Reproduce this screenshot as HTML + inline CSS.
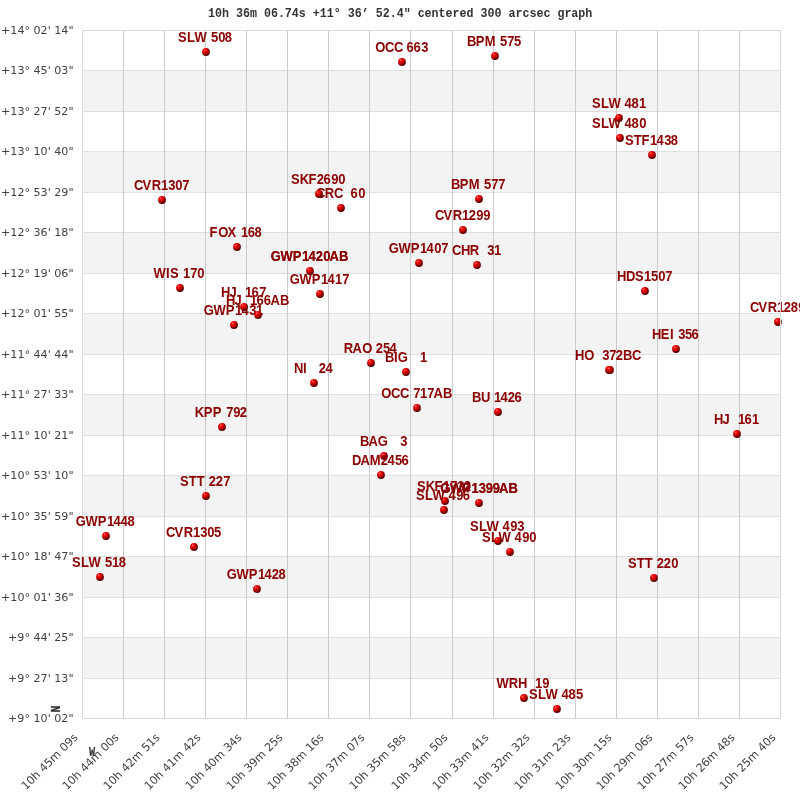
<!DOCTYPE html>
<html><head><meta charset="utf-8"><title>10h 36m 06.74s +11° 36' 52.4" centered 300 arcsec graph</title>
<style>
html,body{margin:0;padding:0;background:#fff;}
body{width:800px;height:800px;overflow:hidden;}
svg{display:block;}
text{white-space:pre;}
.t{font-family:"Liberation Mono","DejaVu Sans Mono",monospace;font-weight:bold;font-size:12.4px;fill:#333;}
.ax{font-family:"DejaVu Sans","Liberation Sans",sans-serif;font-size:11.12px;fill:#414141;}
.xl{font-size:11.3px;}
.lb{font-family:"Liberation Sans","DejaVu Sans",sans-serif;font-weight:bold;font-size:14.5px;fill:#8b0000;}
.nw{font-family:"Liberation Mono","DejaVu Sans Mono",monospace;font-weight:bold;font-size:11.67px;fill:#333;}
</style></head><body>
<svg width="800" height="800" viewBox="0 0 800 800">
<defs>
<radialGradient id="sph" cx="0.37" cy="0.33" r="0.78" fx="0.33" fy="0.27">
<stop offset="0" stop-color="#ffb4b4"/><stop offset="0.11" stop-color="#ff3c3c"/><stop offset="0.24" stop-color="#fa0000"/><stop offset="0.45" stop-color="#cc0000"/><stop offset="0.66" stop-color="#8a0000"/><stop offset="0.85" stop-color="#580000"/><stop offset="1" stop-color="#400000"/>
</radialGradient>
<filter id="dbl" x="-10%" y="-30%" width="120%" height="160%"><feOffset in="SourceGraphic" dx="-0.5" dy="0" result="o"/><feMerge><feMergeNode in="o"/><feMergeNode in="SourceGraphic"/></feMerge></filter>
</defs>
<rect x="0" y="0" width="800" height="800" fill="#ffffff"/>
<rect x="82" y="70" width="698" height="41" fill="#f3f3f3"/>
<rect x="82" y="151" width="698" height="41" fill="#f3f3f3"/>
<rect x="82" y="232" width="698" height="41" fill="#f3f3f3"/>
<rect x="82" y="313" width="698" height="41" fill="#f3f3f3"/>
<rect x="82" y="394" width="698" height="41" fill="#f3f3f3"/>
<rect x="82" y="475" width="698" height="41" fill="#f3f3f3"/>
<rect x="82" y="556" width="698" height="41" fill="#f3f3f3"/>
<rect x="82" y="637" width="698" height="41" fill="#f3f3f3"/>
<rect x="82" y="30" width="699" height="1" fill="#dbdbdb"/>
<rect x="82" y="70" width="699" height="1" fill="#dfdfdf"/>
<rect x="82" y="111" width="699" height="1" fill="#dfdfdf"/>
<rect x="82" y="151" width="699" height="1" fill="#dfdfdf"/>
<rect x="82" y="192" width="699" height="1" fill="#dfdfdf"/>
<rect x="82" y="232" width="699" height="1" fill="#dfdfdf"/>
<rect x="82" y="273" width="699" height="1" fill="#dfdfdf"/>
<rect x="82" y="313" width="699" height="1" fill="#dfdfdf"/>
<rect x="82" y="354" width="699" height="1" fill="#dfdfdf"/>
<rect x="82" y="394" width="699" height="1" fill="#dfdfdf"/>
<rect x="82" y="435" width="699" height="1" fill="#dfdfdf"/>
<rect x="82" y="475" width="699" height="1" fill="#dfdfdf"/>
<rect x="82" y="516" width="699" height="1" fill="#dfdfdf"/>
<rect x="82" y="556" width="699" height="1" fill="#dfdfdf"/>
<rect x="82" y="597" width="699" height="1" fill="#dfdfdf"/>
<rect x="82" y="637" width="699" height="1" fill="#dfdfdf"/>
<rect x="82" y="678" width="699" height="1" fill="#dfdfdf"/>
<rect x="82" y="718" width="699" height="1" fill="#dbdbdb"/>
<rect x="82" y="30" width="1" height="689" fill="#dbdbdb"/>
<rect x="123" y="30" width="1" height="689" fill="#cbcbcb"/>
<rect x="164" y="30" width="1" height="689" fill="#cbcbcb"/>
<rect x="205" y="30" width="1" height="689" fill="#cbcbcb"/>
<rect x="246" y="30" width="1" height="689" fill="#cbcbcb"/>
<rect x="287" y="30" width="1" height="689" fill="#cbcbcb"/>
<rect x="328" y="30" width="1" height="689" fill="#cbcbcb"/>
<rect x="369" y="30" width="1" height="689" fill="#cbcbcb"/>
<rect x="410" y="30" width="1" height="689" fill="#cbcbcb"/>
<rect x="452" y="30" width="1" height="689" fill="#cbcbcb"/>
<rect x="493" y="30" width="1" height="689" fill="#cbcbcb"/>
<rect x="534" y="30" width="1" height="689" fill="#cbcbcb"/>
<rect x="575" y="30" width="1" height="689" fill="#cbcbcb"/>
<rect x="616" y="30" width="1" height="689" fill="#cbcbcb"/>
<rect x="657" y="30" width="1" height="689" fill="#cbcbcb"/>
<rect x="698" y="30" width="1" height="689" fill="#cbcbcb"/>
<rect x="739" y="30" width="1" height="689" fill="#cbcbcb"/>
<rect x="780" y="30" width="1" height="689" fill="#dbdbdb"/>
<text class="t" transform="translate(208,17) scale(0.9409,1)" xml:space="preserve">10h 36m 06.74s +11° 36’ 52.4" centered 300 arcsec graph</text>
<text class="nw" transform="translate(59.9,712.6) rotate(-90) scale(1.02,1.03)" stroke="#333" stroke-width="0.2">N</text>
<text class="nw" transform="translate(89,756) scale(0.88,1.06)" stroke="#333" stroke-width="0.15">W</text>
<text class="ax" x="73.5" y="34.3" text-anchor="end" xml:space="preserve">+14° 02' 14"</text>
<text class="ax" x="73.5" y="74.3" text-anchor="end" xml:space="preserve">+13° 45' 03"</text>
<text class="ax" x="73.5" y="115.3" text-anchor="end" xml:space="preserve">+13° 27' 52"</text>
<text class="ax" x="73.5" y="155.3" text-anchor="end" xml:space="preserve">+13° 10' 40"</text>
<text class="ax" x="73.5" y="196.3" text-anchor="end" xml:space="preserve">+12° 53' 29"</text>
<text class="ax" x="73.5" y="236.3" text-anchor="end" xml:space="preserve">+12° 36' 18"</text>
<text class="ax" x="73.5" y="277.3" text-anchor="end" xml:space="preserve">+12° 19' 06"</text>
<text class="ax" x="73.5" y="317.3" text-anchor="end" xml:space="preserve">+12° 01' 55"</text>
<text class="ax" x="73.5" y="358.3" text-anchor="end" xml:space="preserve">+11° 44' 44"</text>
<text class="ax" x="73.5" y="398.3" text-anchor="end" xml:space="preserve">+11° 27' 33"</text>
<text class="ax" x="73.5" y="439.3" text-anchor="end" xml:space="preserve">+11° 10' 21"</text>
<text class="ax" x="73.5" y="479.3" text-anchor="end" xml:space="preserve">+10° 53' 10"</text>
<text class="ax" x="73.5" y="520.3" text-anchor="end" xml:space="preserve">+10° 35' 59"</text>
<text class="ax" x="73.5" y="560.3" text-anchor="end" xml:space="preserve">+10° 18' 47"</text>
<text class="ax" x="73.5" y="601.3" text-anchor="end" xml:space="preserve">+10° 01' 36"</text>
<text class="ax" x="73.5" y="641.3" text-anchor="end" xml:space="preserve">+9° 44' 25"</text>
<text class="ax" x="73.5" y="682.3" text-anchor="end" xml:space="preserve">+9° 27' 13"</text>
<text class="ax" x="73.5" y="722.3" text-anchor="end" xml:space="preserve">+9° 10' 02"</text>
<text class="ax xl" text-anchor="end" transform="translate(78.5,738) rotate(-45)" xml:space="preserve">10h 45m 09s</text>
<text class="ax xl" text-anchor="end" transform="translate(119.5,738) rotate(-45)" xml:space="preserve">10h 44m 00s</text>
<text class="ax xl" text-anchor="end" transform="translate(160.5,738) rotate(-45)" xml:space="preserve">10h 42m 51s</text>
<text class="ax xl" text-anchor="end" transform="translate(201.5,738) rotate(-45)" xml:space="preserve">10h 41m 42s</text>
<text class="ax xl" text-anchor="end" transform="translate(242.5,738) rotate(-45)" xml:space="preserve">10h 40m 34s</text>
<text class="ax xl" text-anchor="end" transform="translate(283.5,738) rotate(-45)" xml:space="preserve">10h 39m 25s</text>
<text class="ax xl" text-anchor="end" transform="translate(324.5,738) rotate(-45)" xml:space="preserve">10h 38m 16s</text>
<text class="ax xl" text-anchor="end" transform="translate(365.5,738) rotate(-45)" xml:space="preserve">10h 37m 07s</text>
<text class="ax xl" text-anchor="end" transform="translate(406.5,738) rotate(-45)" xml:space="preserve">10h 35m 58s</text>
<text class="ax xl" text-anchor="end" transform="translate(448.5,738) rotate(-45)" xml:space="preserve">10h 34m 50s</text>
<text class="ax xl" text-anchor="end" transform="translate(489.5,738) rotate(-45)" xml:space="preserve">10h 33m 41s</text>
<text class="ax xl" text-anchor="end" transform="translate(530.5,738) rotate(-45)" xml:space="preserve">10h 32m 32s</text>
<text class="ax xl" text-anchor="end" transform="translate(571.5,738) rotate(-45)" xml:space="preserve">10h 31m 23s</text>
<text class="ax xl" text-anchor="end" transform="translate(612.5,738) rotate(-45)" xml:space="preserve">10h 30m 15s</text>
<text class="ax xl" text-anchor="end" transform="translate(653.5,738) rotate(-45)" xml:space="preserve">10h 29m 06s</text>
<text class="ax xl" text-anchor="end" transform="translate(694.5,738) rotate(-45)" xml:space="preserve">10h 27m 57s</text>
<text class="ax xl" text-anchor="end" transform="translate(735.5,738) rotate(-45)" xml:space="preserve">10h 26m 48s</text>
<text class="ax xl" text-anchor="end" transform="translate(776.5,738) rotate(-45)" xml:space="preserve">10h 25m 40s</text>
<text class="lb" transform="translate(359.75,446) scale(0.8966,1)" x="0.18 9.84 20.18 31.23 35.69 40.15 45.14" xml:space="preserve">BAG   3</text>
<circle cx="384" cy="456" r="3.9" fill="url(#sph)"/>
<text class="lb" transform="translate(384.75,362) scale(0.8966,1)" x="0.18 10.26 14.60 25.65 30.12 34.58 39.22" xml:space="preserve">BIG   1</text>
<circle cx="406" cy="372" r="3.9" fill="url(#sph)"/>
<text class="lb" transform="translate(466.75,46) scale(0.8966,1)" x="0.18 9.98 20.18 32.35 37.23 45.05 52.84" xml:space="preserve">BPM 575</text>
<circle cx="495" cy="56" r="3.9" fill="url(#sph)"/>
<text class="lb" transform="translate(450.75,189) scale(0.8966,1)" x="0.18 9.98 20.18 32.35 37.23 45.05 52.86" xml:space="preserve">BPM 577</text>
<circle cx="479" cy="199" r="3.9" fill="url(#sph)"/>
<text class="lb" transform="translate(471.75,402) scale(0.8966,1)" x="0.18 10.40 20.08 24.72 32.15 40.07 47.82" xml:space="preserve">BU 1426</text>
<circle cx="498" cy="412" r="3.9" fill="url(#sph)"/>
<text class="lb" transform="translate(451.75,255) scale(0.8966,1)" x="0.25 10.38 20.09 30.12 34.58 39.57 47.03" xml:space="preserve">CHR  31</text>
<circle cx="477" cy="265" r="3.9" fill="url(#sph)"/>
<text class="lb" transform="translate(315.75,198) scale(0.8966,1)" x="0.25 10.05 20.33 30.12 34.58 38.90 47.28" xml:space="preserve">CRC  60</text>
<circle cx="341" cy="208" r="3.9" fill="url(#sph)"/>
<text class="lb" transform="translate(749.75,312) scale(0.8966,1)" x="0.25 9.66 20.09 30.30 37.84 45.59 53.98" xml:space="preserve">CVR1289</text>
<circle cx="778" cy="322" r="3.9" fill="url(#sph)"/>
<text class="lb" transform="translate(434.75,220) scale(0.8966,1)" x="0.25 9.66 20.09 30.30 37.84 46.17 53.98" xml:space="preserve">CVR1299</text>
<circle cx="463" cy="230" r="3.9" fill="url(#sph)"/>
<text class="lb" transform="translate(165.75,537) scale(0.8966,1)" x="0.25 9.66 20.09 30.30 38.45 46.17 53.96" xml:space="preserve">CVR1305</text>
<circle cx="194" cy="547" r="3.9" fill="url(#sph)"/>
<text class="lb" transform="translate(133.75,190) scale(0.8966,1)" x="0.25 9.66 20.09 30.30 38.45 46.17 53.98" xml:space="preserve">CVR1307</text>
<circle cx="162" cy="200" r="3.9" fill="url(#sph)"/>
<text class="lb" transform="translate(351.75,465) scale(0.8966,1)" x="0.16 9.84 20.18 32.26 39.96 48.38 55.63" xml:space="preserve">DAM2456</text>
<circle cx="381" cy="475" r="3.9" fill="url(#sph)"/>
<text class="lb" transform="translate(209.75,237) scale(0.8966,1)" x="-0.20 9.44 19.70 30.12 34.76 42.25 50.05" xml:space="preserve">FOX 168</text>
<circle cx="237" cy="247" r="3.9" fill="url(#sph)"/>
<text class="lb" filter="url(#dbl)" transform="translate(440.25,493) scale(0.8966,1)" x="0.10 10.99 24.48 34.76 42.91 50.63 58.44 65.61 76.02" xml:space="preserve">GWP1399AB</text>
<circle cx="479" cy="503" r="3.9" fill="url(#sph)"/>
<text class="lb" transform="translate(388.75,253) scale(0.8966,1)" x="0.10 10.99 24.48 34.76 42.19 50.63 58.44" xml:space="preserve">GWP1407</text>
<circle cx="419" cy="263" r="3.9" fill="url(#sph)"/>
<text class="lb" transform="translate(289.75,284) scale(0.8966,1)" x="0.10 10.99 24.48 34.76 42.19 50.38 58.44" xml:space="preserve">GWP1417</text>
<circle cx="320" cy="294" r="3.9" fill="url(#sph)"/>
<text class="lb" filter="url(#dbl)" transform="translate(270.75,261) scale(0.8966,1)" x="0.10 10.99 24.48 34.76 42.19 50.11 58.44 65.61 76.02" xml:space="preserve">GWP1420AB</text>
<circle cx="310" cy="271" r="3.9" fill="url(#sph)"/>
<text class="lb" transform="translate(226.75,579) scale(0.8966,1)" x="0.10 10.99 24.48 34.76 42.19 50.11 57.86" xml:space="preserve">GWP1428</text>
<circle cx="257" cy="589" r="3.9" fill="url(#sph)"/>
<text class="lb" transform="translate(203.75,315) scale(0.8966,1)" x="0.10 10.99 24.48 34.76 42.19 50.72 58.18" xml:space="preserve">GWP1431</text>
<circle cx="234" cy="325" r="3.9" fill="url(#sph)"/>
<text class="lb" transform="translate(75.75,526) scale(0.8966,1)" x="0.10 10.99 24.48 34.76 42.19 50.00 57.86" xml:space="preserve">GWP1448</text>
<circle cx="106" cy="536" r="3.9" fill="url(#sph)"/>
<text class="lb" transform="translate(616.75,281) scale(0.8966,1)" x="0.34 10.20 20.33 30.30 38.34 46.17 53.98" xml:space="preserve">HDS1507</text>
<circle cx="645" cy="291" r="3.9" fill="url(#sph)"/>
<text class="lb" transform="translate(651.75,339) scale(0.8966,1)" x="0.34 10.02 20.30 24.54 29.53 37.23 44.48" xml:space="preserve">HEI 356</text>
<circle cx="676" cy="349" r="3.9" fill="url(#sph)"/>
<text class="lb" transform="translate(713.75,424) scale(0.8966,1)" x="0.34 9.74 17.85 22.31 26.95 34.44 42.57" xml:space="preserve">HJ  161</text>
<circle cx="737" cy="434" r="3.9" fill="url(#sph)"/>
<text class="lb" transform="translate(225.75,305) scale(0.8966,1)" x="0.34 9.74 17.85 22.31 26.95 34.44 42.25 49.99 60.41" xml:space="preserve">HJ  166AB</text>
<circle cx="258" cy="315" r="3.9" fill="url(#sph)"/>
<text class="lb" transform="translate(220.75,297) scale(0.8966,1)" x="0.34 9.74 17.85 22.31 26.95 34.44 42.82" xml:space="preserve">HJ  167</text>
<circle cx="244" cy="307" r="3.9" fill="url(#sph)"/>
<text class="lb" transform="translate(574.75,360) scale(0.8966,1)" x="0.34 10.55 21.19 25.65 30.64 38.36 45.65 53.71 63.83" xml:space="preserve">HO  372BC</text>
<circle cx="609" cy="370" r="3.9" fill="url(#sph)"/>
<circle cx="610" cy="370" r="3.9" fill="url(#sph)"/>
<text class="lb" transform="translate(194.75,417) scale(0.8966,1)" x="-0.08 9.98 20.02 30.12 35.01 42.82 50.11" xml:space="preserve">KPP 792</text>
<circle cx="222" cy="427" r="3.9" fill="url(#sph)"/>
<text class="lb" transform="translate(293.75,373) scale(0.8966,1)" x="0.34 10.26 14.50 18.96 23.42 27.80 35.50" xml:space="preserve">NI   24</text>
<circle cx="314" cy="383" r="3.9" fill="url(#sph)"/>
<text class="lb" transform="translate(374.75,52) scale(0.8966,1)" x="0.52 11.40 21.44 31.23 35.55 43.36 51.84" xml:space="preserve">OCC 663</text>
<circle cx="402" cy="62" r="3.9" fill="url(#sph)"/>
<text class="lb" transform="translate(380.75,398) scale(0.8966,1)" x="0.52 11.40 21.44 31.23 36.13 43.68 51.75 58.91 69.33" xml:space="preserve">OCC 717AB</text>
<circle cx="417" cy="408" r="3.9" fill="url(#sph)"/>
<text class="lb" transform="translate(343.75,353) scale(0.8966,1)" x="0.01 9.84 20.59 31.23 35.61 43.92 51.12" xml:space="preserve">RAO 254</text>
<circle cx="371" cy="363" r="3.9" fill="url(#sph)"/>
<text class="lb" transform="translate(416.75,491) scale(0.8966,1)" x="0.25 9.96 19.88 29.18 37.25 45.14 52.34" xml:space="preserve">SKF1732</text>
<circle cx="445" cy="501" r="3.9" fill="url(#sph)"/>
<text class="lb" transform="translate(290.75,184) scale(0.8966,1)" x="0.25 9.96 19.88 28.92 36.67 45.05 52.86" xml:space="preserve">SKF2690</text>
<circle cx="319" cy="194" r="3.9" fill="url(#sph)"/>
<text class="lb" transform="translate(591.75,128) scale(0.8966,1)" x="0.25 10.36 18.80 32.35 36.62 44.48 52.86" xml:space="preserve">SLW 480</text>
<circle cx="620" cy="138" r="3.9" fill="url(#sph)"/>
<text class="lb" transform="translate(591.75,108) scale(0.8966,1)" x="0.25 10.36 18.80 32.35 36.62 44.48 52.61" xml:space="preserve">SLW 481</text>
<circle cx="619" cy="118" r="3.9" fill="url(#sph)"/>
<text class="lb" transform="translate(528.75,699) scale(0.8966,1)" x="0.25 10.36 18.80 32.35 36.62 44.48 52.84" xml:space="preserve">SLW 485</text>
<circle cx="557" cy="709" r="3.9" fill="url(#sph)"/>
<text class="lb" transform="translate(481.75,542) scale(0.8966,1)" x="0.25 10.36 18.80 32.35 36.62 45.05 52.86" xml:space="preserve">SLW 490</text>
<circle cx="510" cy="552" r="3.9" fill="url(#sph)"/>
<text class="lb" transform="translate(469.75,531) scale(0.8966,1)" x="0.25 10.36 18.80 32.35 36.62 45.05 52.95" xml:space="preserve">SLW 493</text>
<circle cx="498" cy="541" r="3.9" fill="url(#sph)"/>
<text class="lb" transform="translate(415.75,500) scale(0.8966,1)" x="0.25 10.36 18.80 32.35 36.62 45.05 52.29" xml:space="preserve">SLW 496</text>
<circle cx="444" cy="510" r="3.9" fill="url(#sph)"/>
<text class="lb" transform="translate(177.75,42) scale(0.8966,1)" x="0.25 10.36 18.80 32.35 37.23 45.05 52.29" xml:space="preserve">SLW 508</text>
<circle cx="206" cy="52" r="3.9" fill="url(#sph)"/>
<text class="lb" transform="translate(71.75,567) scale(0.8966,1)" x="0.25 10.36 18.80 32.35 37.23 44.80 52.29" xml:space="preserve">SLW 518</text>
<circle cx="100" cy="577" r="3.9" fill="url(#sph)"/>
<text class="lb" transform="translate(624.75,145) scale(0.8966,1)" x="0.25 10.08 18.76 28.07 35.50 44.03 51.17" xml:space="preserve">STF1438</text>
<circle cx="652" cy="155" r="3.9" fill="url(#sph)"/>
<text class="lb" transform="translate(627.75,568) scale(0.8966,1)" x="0.25 10.08 19.00 27.88 32.26 40.07 48.40" xml:space="preserve">STT 220</text>
<circle cx="654" cy="578" r="3.9" fill="url(#sph)"/>
<text class="lb" transform="translate(179.75,486) scale(0.8966,1)" x="0.25 10.08 19.00 27.88 32.26 40.07 48.40" xml:space="preserve">STT 227</text>
<circle cx="206" cy="496" r="3.9" fill="url(#sph)"/>
<text class="lb" transform="translate(153.75,278) scale(0.8966,1)" x="-0.16 13.60 18.10 27.88 32.53 40.59 48.40" xml:space="preserve">WIS 170</text>
<circle cx="180" cy="288" r="3.9" fill="url(#sph)"/>
<text class="lb" transform="translate(496.75,688) scale(0.8966,1)" x="-0.16 13.40 23.76 33.46 37.92 42.57 50.63" xml:space="preserve">WRH  19</text>
<circle cx="524" cy="698" r="3.9" fill="url(#sph)"/>
<rect x="780" y="30" width="1" height="689" fill="#dbdbdb"/>
</svg>
</body></html>
